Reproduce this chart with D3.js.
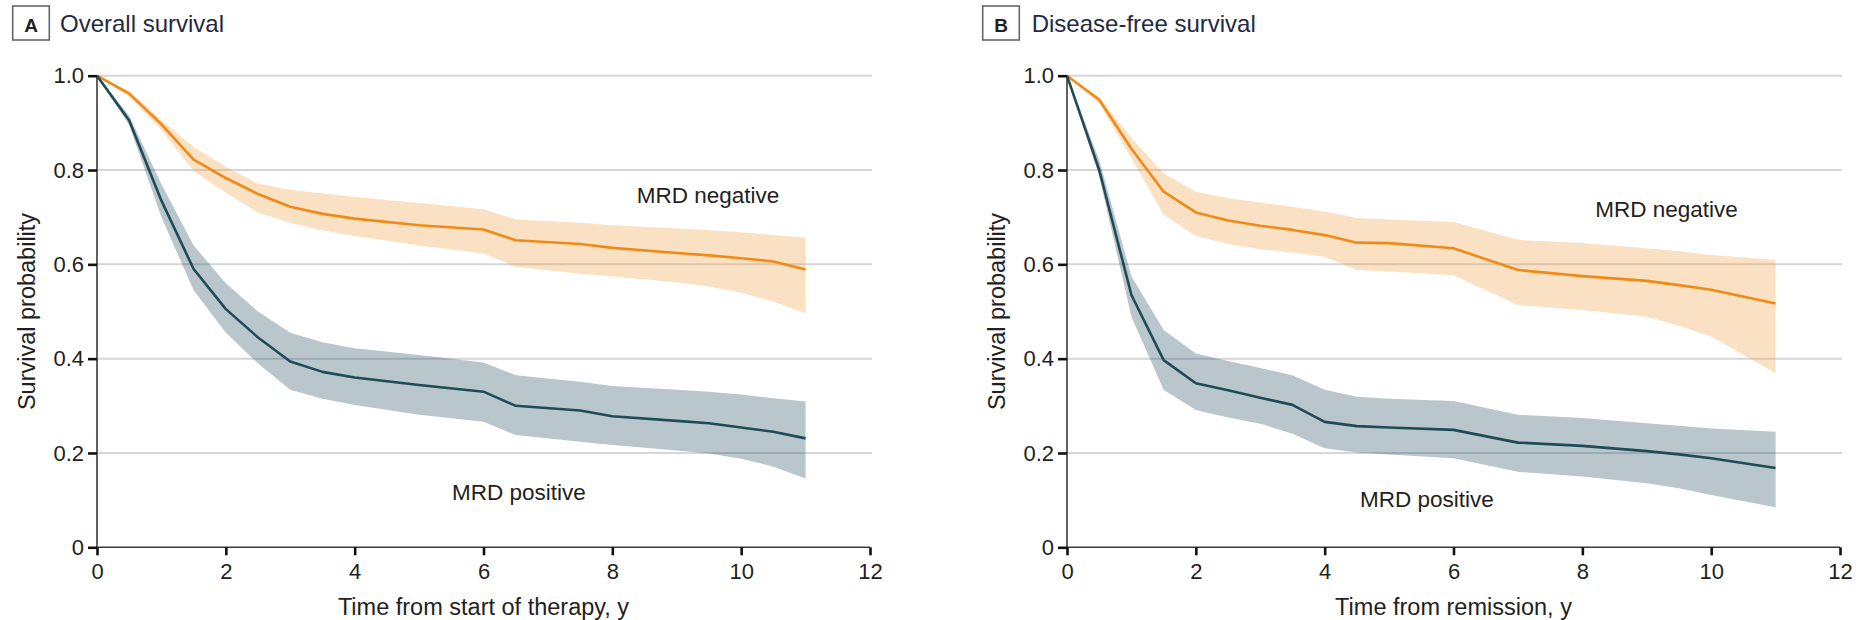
<!DOCTYPE html>
<html>
<head>
<meta charset="utf-8">
<script src="https://cdn.jsdelivr.net/npm/d3@7"></script>
<style>
  html, body { margin: 0; padding: 0; background: #fff; }
  svg { display: block; }
  text { font-family: "Liberation Sans", Arial, sans-serif; fill: #231f20; }
</style>
</head>
<body>
<svg id="chart" width="1860" height="620"></svg>
<script>
// ---------- Data ----------
const xTicks = [0, 2, 4, 6, 8, 10, 12];
const yTicks = [0, 0.2, 0.4, 0.6, 0.8, 1.0];
const gridValues = [0.2, 0.4, 0.6, 0.8, 1.0];

// Panel A: Overall survival
const timeA = [0, 0.5, 1, 1.5, 2, 2.5, 3, 3.5, 4, 5, 6, 6.5, 7.5, 8, 9, 9.5, 10, 10.5, 11];
const osNegative    = [1, 0.962, 0.897, 0.822, 0.783, 0.749, 0.722, 0.707, 0.697, 0.683, 0.674, 0.651, 0.643, 0.635, 0.624, 0.619, 0.613, 0.606, 0.589];
const osNegativeHi  = [1, 0.968, 0.906, 0.849, 0.807, 0.771, 0.758, 0.750, 0.743, 0.730, 0.717, 0.695, 0.688, 0.683, 0.676, 0.673, 0.668, 0.662, 0.657];
const osNegativeLo  = [1, 0.955, 0.885, 0.798, 0.752, 0.710, 0.688, 0.672, 0.660, 0.640, 0.623, 0.595, 0.580, 0.574, 0.562, 0.553, 0.540, 0.521, 0.496];
const osPositive    = [1, 0.905, 0.735, 0.590, 0.505, 0.445, 0.394, 0.372, 0.360, 0.344, 0.330, 0.300, 0.290, 0.278, 0.268, 0.263, 0.254, 0.245, 0.231];
const osPositiveHi  = [1, 0.915, 0.770, 0.640, 0.560, 0.500, 0.455, 0.435, 0.422, 0.408, 0.392, 0.365, 0.351, 0.342, 0.334, 0.330, 0.324, 0.316, 0.309];
const osPositiveLo  = [1, 0.895, 0.700, 0.545, 0.455, 0.390, 0.334, 0.315, 0.302, 0.281, 0.266, 0.238, 0.224, 0.217, 0.205, 0.199, 0.188, 0.171, 0.146];

// Panel B: Disease-free survival
const timeB = [0, 0.5, 1, 1.5, 2, 2.5, 3, 3.5, 4, 4.5, 5, 6, 7, 8, 9, 9.5, 10, 11];
const dfsNegative   = [1, 0.949, 0.845, 0.754, 0.710, 0.693, 0.682, 0.673, 0.662, 0.646, 0.645, 0.634, 0.588, 0.575, 0.565, 0.556, 0.546, 0.517];
const dfsNegativeHi = [1, 0.955, 0.868, 0.793, 0.754, 0.740, 0.731, 0.722, 0.712, 0.698, 0.695, 0.690, 0.652, 0.645, 0.634, 0.628, 0.620, 0.609];
const dfsNegativeLo = [1, 0.941, 0.825, 0.705, 0.660, 0.643, 0.632, 0.625, 0.616, 0.588, 0.585, 0.577, 0.514, 0.503, 0.489, 0.470, 0.447, 0.369];
const dfsPositive   = [1, 0.800, 0.535, 0.397, 0.348, 0.333, 0.317, 0.302, 0.266, 0.257, 0.254, 0.249, 0.222, 0.215, 0.204, 0.197, 0.189, 0.168];
const dfsPositiveHi = [1, 0.821, 0.575, 0.461, 0.411, 0.395, 0.380, 0.365, 0.334, 0.319, 0.315, 0.310, 0.281, 0.274, 0.263, 0.258, 0.252, 0.245];
const dfsPositiveLo = [1, 0.786, 0.489, 0.334, 0.291, 0.275, 0.262, 0.241, 0.210, 0.201, 0.197, 0.189, 0.160, 0.150, 0.136, 0.125, 0.111, 0.085];

const groupLabels = ["MRD negative", "MRD positive"];

// ---------- Layout / style ----------
const colors = {
  neg: "#F08A14", negBand: "#F39A3C",
  pos: "#1E4B55", posBand: "#1E4B5F"
};

const panels = [
  {
    letter: "A", title: "Overall survival", xTitle: "Time from start of therapy, y",
    left: 97, right: 870, boxX: 12.7, titleX: 60,
    time: timeA,
    neg: osNegative, negHi: osNegativeHi, negLo: osNegativeLo,
    pos: osPositive, posHi: osPositiveHi, posLo: osPositiveLo,
    negLabel: [8.38, 0.730], posLabel: [5.51, 0.100]
  },
  {
    letter: "B", title: "Disease-free survival", xTitle: "Time from remission, y",
    left: 1067, right: 1840, boxX: 982.7, titleX: 1031.7,
    time: timeB,
    neg: dfsNegative, negHi: dfsNegativeHi, negLo: dfsNegativeLo,
    pos: dfsPositive, posHi: dfsPositiveHi, posLo: dfsPositiveLo,
    negLabel: [8.20, 0.701], posLabel: [4.55, 0.085]
  }
];

const plotTop = 75.7, plotBottom = 547.3;
const svg = d3.select("#chart");

panels.forEach(p => {
  const x = d3.scaleLinear().domain([0, 12]).range([p.left, p.right]);
  const y = d3.scaleLinear().domain([0, 1]).range([plotBottom, plotTop]);
  const g = svg.append("g");

  // Panel header
  g.append("rect")
    .attr("x", p.boxX).attr("y", 6).attr("width", 36.6).attr("height", 34)
    .attr("fill", "#fff").attr("stroke", "#666").attr("stroke-width", 1.6);
  g.append("text")
    .attr("x", p.boxX + 18.3).attr("y", 31.5)
    .attr("text-anchor", "middle")
    .attr("font-size", 19).attr("font-weight", "bold")
    .text(p.letter);
  g.append("text")
    .attr("x", p.titleX).attr("y", 31.5)
    .attr("font-size", 24)
    .style("fill", "#1f2a44")
    .text(p.title);

  // Grid lines
  g.selectAll("line.grid").data(gridValues).enter().append("line")
    .attr("class", "grid")
    .attr("x1", x(0)).attr("x2", x(12) + 2)
    .attr("y1", d => y(d)).attr("y2", d => y(d))
    .attr("stroke", "#d6d6da").attr("stroke-width", 2);

  // Bands and lines
  const rows = (mid, hi, lo) => p.time.map((t, i) => ({ t, m: mid[i], h: hi[i], l: lo[i] }));
  const negRows = rows(p.neg, p.negHi, p.negLo);
  const posRows = rows(p.pos, p.posHi, p.posLo);

  const area = d3.area().x(d => x(d.t)).y0(d => y(d.l)).y1(d => y(d.h)).curve(d3.curveLinear);
  const line = d3.line().x(d => x(d.t)).y(d => y(d.m)).curve(d3.curveLinear);

  g.append("path").datum(negRows).attr("d", area)
    .attr("fill", colors.negBand).attr("fill-opacity", 0.3);
  g.append("path").datum(posRows).attr("d", area)
    .attr("fill", colors.posBand).attr("fill-opacity", 0.31);

  g.append("path").datum(negRows).attr("d", line)
    .attr("fill", "none").attr("stroke", colors.neg).attr("stroke-width", 2.6)
    .attr("stroke-linejoin", "round");
  g.append("path").datum(posRows).attr("d", line)
    .attr("fill", "none").attr("stroke", colors.pos).attr("stroke-width", 2.6)
    .attr("stroke-linejoin", "round");

  // Axes
  const xAxis = d3.axisBottom(x).tickValues(xTicks).tickSize(8).tickPadding(8)
    .tickFormat(d3.format("d"));
  const yAxis = d3.axisLeft(y).tickValues(yTicks).tickSize(9).tickPadding(4)
    .tickFormat(d => d === 0 ? "0" : d3.format(".1f")(d));

  const xg = g.append("g").attr("transform", `translate(0,${plotBottom})`).call(xAxis);
  const yg = g.append("g").attr("transform", `translate(${p.left},0)`).call(yAxis);
  [xg, yg].forEach(ax => {
    ax.select(".domain").attr("stroke", "#3a3a3a").attr("stroke-width", 1.6);
    ax.selectAll(".tick line").attr("stroke", "#111").attr("stroke-width", 2.6);
    ax.selectAll(".tick text").attr("font-size", 22).attr("fill", "#1d1d1d")
      .style("font-family", "'Liberation Sans', Arial, sans-serif");
  });
  xg.select(".domain").attr("d", `M${x(0)},0H${x(12)}`);
  yg.select(".domain").attr("d", `M0,${y(0)}V${y(1)}`);

  // Axis titles
  g.append("text")
    .attr("x", (p.left + p.right) / 2).attr("y", 615)
    .attr("text-anchor", "middle").attr("font-size", 23.5)
    .text(p.xTitle);
  g.append("text")
    .attr("transform", `translate(${p.left - 62},${(plotTop + plotBottom) / 2}) rotate(-90)`)
    .attr("text-anchor", "middle").attr("font-size", 23.5)
    .text("Survival probability");

  // Group labels
  g.append("text")
    .attr("x", x(p.negLabel[0])).attr("y", y(p.negLabel[1]))
    .attr("font-size", 22.5).text(groupLabels[0]);
  g.append("text")
    .attr("x", x(p.posLabel[0])).attr("y", y(p.posLabel[1]))
    .attr("font-size", 22.5).text(groupLabels[1]);
});
</script>
</body>
</html>
